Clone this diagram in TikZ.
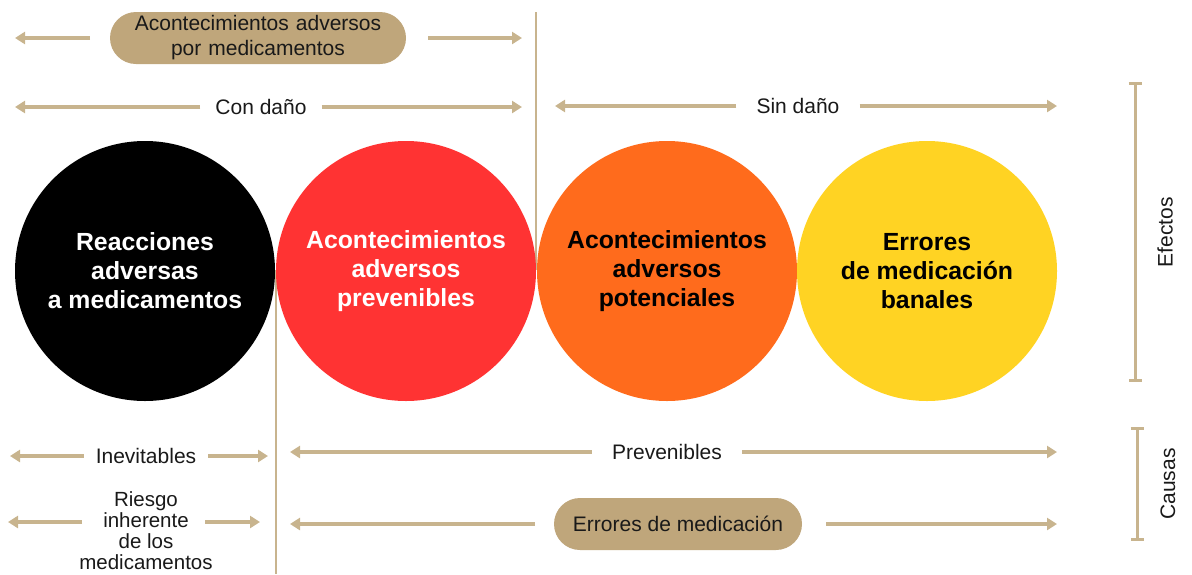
\documentclass[tikz,border=0pt]{standalone}
\usepackage{fontspec}
\setmainfont{Liberation Sans}
\usetikzlibrary{arrows.meta}
\definecolor{tan}{HTML}{C8B48E}
\definecolor{pillfill}{HTML}{BFA67B}
\definecolor{cred}{HTML}{FF3333}
\definecolor{corange}{HTML}{FF6B1C}
\definecolor{cyellow}{HTML}{FFD323}
\tikzset{
  arr/.style={draw=tan,line width=3.5pt,-{Triangle[length=10pt,width=12pt]}},
  bar/.style={draw=tan,line width=3pt,{Bar[width=13pt,line width=3pt]}-{Bar[width=13pt,line width=3pt]}},
  vline/.style={draw=tan,line width=1.6pt},
  lbl/.style={font=\fontsize{21}{24}\selectfont,text=black!90,inner sep=0pt,align=center},
  pill/.style={lbl,fill=pillfill,rounded corners=26pt,minimum height=52pt},
  disc/.style={circle,minimum size=260pt,inner sep=0pt,align=center,font=\bfseries\fontsize{24.8}{29}\selectfont},
}
\begin{document}
\begin{tikzpicture}[x=1pt,y=-1pt]
\useasboundingbox (0,0) rectangle (1192,574);
% separator lines
\coordinate (t1) at (536,12); \coordinate (t2) at (536,270);
\draw[vline] (t1) -- (t2);
\coordinate (b1) at (276,270); \coordinate (b2) at (276,574);
\draw[vline] (b1) -- (b2);
% circles
\node[disc,fill=black,text=white] (c1) at (145,271) {Reacciones\\adversas\\a medicamentos};
\node[disc,fill=cred,text=white] (c2) at (406,271) {Acontecimientos\\adversos\\prevenibles};
\node[disc,fill=corange,text=black] (c3) at (667,271) {Acontecimientos\\adversos\\potenciales};
\node[disc,fill=cyellow,text=black] (c4) at (927,271) {Errores\\de medicación\\banales};
% top pill
\node[pill,minimum width=296pt,text width=290pt,font=\fontsize{21}{25}\selectfont] (amp) at (258,38) {Acontecimientos adversos\\por medicamentos};
\coordinate (ampL) at (15,38); \coordinate (ampR) at (522,38);
\coordinate (ampLs) at (90,38); \coordinate (ampRs) at (428,38);
\draw[arr] (ampLs) -- (ampL);
\draw[arr] (ampRs) -- (ampR);
% con dano
\node[lbl,inner xsep=15pt] (cd) at (261,107) {Con daño};
\coordinate (cdL) at (15,107); \coordinate (cdR) at (522,107);
\draw[arr] (cd.west) -- (cdL |- cd.west);
\draw[arr] (cd.east) -- (cdR |- cd.east);
% sin dano
\node[lbl,inner xsep=20pt] (sd) at (798,106) {Sin daño};
\coordinate (sdL) at (555,106); \coordinate (sdR) at (1057,106);
\draw[arr] (sd.west) -- (sdL |- sd.west);
\draw[arr] (sd.east) -- (sdR |- sd.east);
% efectos / causas
\coordinate (e1) at (1135,82); \coordinate (e2) at (1135,382);
\draw[bar] (e1) -- (e2);
\node[lbl,rotate=90] (ef) at (1165,232) {Efectos};
\coordinate (k1) at (1137,427); \coordinate (k2) at (1137,541);
\draw[bar] (k1) -- (k2);
\node[lbl,rotate=90] (ca) at (1168,484) {Causas};
% inevitables
\node[lbl,inner xsep=12pt] (inev) at (146,456) {Inevitables};
\coordinate (inL) at (10,456); \coordinate (inR) at (268,456);
\draw[arr] (inev.west) -- (inL |- inev.west);
\draw[arr] (inev.east) -- (inR |- inev.east);
% prevenibles
\node[lbl,inner xsep=20pt] (prev) at (667,452) {Prevenibles};
\coordinate (pvL) at (290,452); \coordinate (pvR) at (1057,452);
\draw[arr] (prev.west) -- (pvL |- prev.west);
\draw[arr] (prev.east) -- (pvR |- prev.east);
% riesgo
\node[lbl,font=\fontsize{20.5}{21}\selectfont,inner xsep=12pt] (ri) at (146,531) {Riesgo\\inherente\\de los\\medicamentos};
\coordinate (riL) at (8,522); \coordinate (riR) at (260,522);
\coordinate (riLs) at (82,522); \coordinate (riRs) at (205,522);
\draw[arr] (riLs) -- (riL);
\draw[arr] (riRs) -- (riR);
% errores pill
\node[pill,minimum width=248pt] (em) at (678,524) {Errores de medicación};
\coordinate (emL) at (290,524); \coordinate (emR) at (1057,524);
\coordinate (emLs) at (535,524); \coordinate (emRs) at (826,524);
\draw[arr] (emLs) -- (emL);
\draw[arr] (emRs) -- (emR);
\end{tikzpicture}
\end{document}
